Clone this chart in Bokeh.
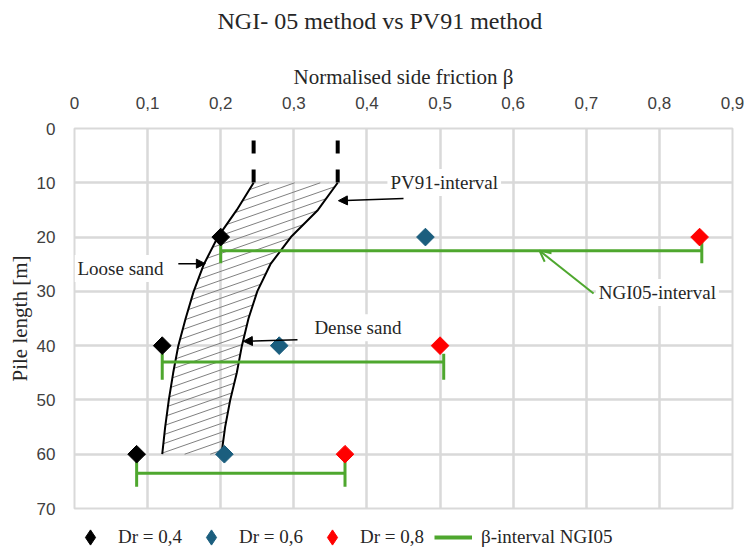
import numpy as np
from bokeh.plotting import figure
from bokeh.layouts import column
from bokeh.models import (Range1d, FixedTicker, CustomJSTickFormatter, Label, Arrow,
                          NormalHead, OpenHead, Legend, LegendItem, Title)
from bokeh.embed import file_html
from bokeh.resources import INLINE

# ---------------- data ----------------
depth = [20, 40, 60]
beta_dr04 = [0.2, 0.12, 0.085]
beta_dr06 = [0.48, 0.28, 0.205]
beta_dr08 = [0.855, 0.5, 0.37]

ngi_depth = [22.5, 43.0, 63.5]
ngi_low = [0.2, 0.12, 0.085]
ngi_high = [0.858, 0.505, 0.37]
ngi_cap_top = [20.0, 41.5, 61.0]
ngi_cap_bottom = [24.8, 46.3, 66.0]

pv_depth = [10, 15, 20, 25, 30, 35, 40, 45, 50, 55, 60]
pv_loose = [0.245, 0.222, 0.196, 0.177, 0.163, 0.152, 0.142, 0.135, 0.129, 0.124, 0.12]
pv_dense = [0.36, 0.333, 0.296, 0.268, 0.25, 0.238, 0.229, 0.222, 0.213, 0.206, 0.201]
pv_ext_depth = [2.2, 10.5]

x_ticks = [0, 0.1, 0.2, 0.3, 0.4, 0.5, 0.6, 0.7, 0.8, 0.9]
y_ticks = [0, 10, 20, 30, 40, 50, 60, 70]

legend_labels = ["Dr = 0,4", "Dr = 0,6", "Dr = 0,8", "β-interval NGI05"]

BLACK = "#000000"
BLUE = "#1B5E7E"
RED = "#FF0000"
GREEN = "#4EA72E"
GRID = "#D9D9D9"
SERIF = "Liberation Serif"
SANS = "Liberation Sans"

W, H, HL = 744, 518, 38
p = figure(width=W, height=H, x_range=Range1d(0, 0.9), y_range=Range1d(70, 0),
           x_axis_location="above", output_backend="svg", toolbar_location=None,
           min_border_left=74, min_border_right=12, min_border_top=128, min_border_bottom=10,
           title="NGI- 05 method vs PV91 method")

p.title.text_font = SERIF
p.title.text_font_size = "24px"
p.title.text_font_style = "normal"
p.title.text_color = "#262626"
p.title.align = "left"
p.title.offset = 143

# spacer between the axis label and the title
p.add_layout(Title(text=" ", text_font_size="10px"), "above")

p.xaxis.ticker = FixedTicker(ticks=x_ticks)
p.yaxis.ticker = FixedTicker(ticks=y_ticks)
p.xaxis.formatter = CustomJSTickFormatter(code="return tick == 0 ? '0' : tick.toFixed(1).replace('.', ',');")
for ax in (p.xaxis[0], p.yaxis[0]):
    ax.axis_line_color = None
    ax.major_tick_out = 0
    ax.major_tick_in = 0
    ax.minor_tick_out = 0
    ax.minor_tick_in = 0
    ax.major_label_text_font = SANS
    ax.major_label_text_font_size = "17px"
    ax.major_label_text_color = "#404040"
    ax.axis_label_text_font = SERIF
    ax.axis_label_text_font_size = "21px"
    ax.axis_label_text_font_style = "normal"
    ax.axis_label_text_color = "#262626"
p.xaxis.axis_label = "Normalised side friction β"
p.yaxis.axis_label = "Pile length [m]"
p.xaxis.major_label_standoff = 20
p.xaxis.axis_label_standoff = 5
p.yaxis.major_label_standoff = 19
p.yaxis.axis_label_standoff = 2

p.grid.grid_line_color = GRID
p.grid.grid_line_width = 2.5
p.outline_line_color = GRID
p.outline_line_width = 2

# ---------------- PV91 band (hatched) ----------------
px_per_x = 658 / 0.9
px_per_y = 380 / 70
m = 0.35 * px_per_x / px_per_y
xs_s = np.linspace(0.05, 0.45, 4000)
hx, hy = [], []
c = 10 + 1.0
while c < 60 + m * 0.45:
    ys_s = c - m * xs_s
    lo = np.interp(ys_s, pv_depth, pv_loose)
    hi = np.interp(ys_s, pv_depth, pv_dense)
    mask = (ys_s >= 10) & (ys_s <= 60) & (xs_s >= lo) & (xs_s <= hi)
    if mask.any():
        idx = np.where(mask)[0]
        hx.append([xs_s[idx[0]], xs_s[idx[-1]]])
        hy.append([ys_s[idx[0]], ys_s[idx[-1]]])
    c += 1.65
p.multi_line(hx, hy, line_color="#808080", line_width=1)

p.line(pv_loose, pv_depth, line_color=BLACK, line_width=2)
p.line(pv_dense, pv_depth, line_color=BLACK, line_width=2)
p.line([pv_loose[0]] * 2, pv_ext_depth, line_color=BLACK, line_width=4, line_dash="13 16")
p.line([pv_dense[0]] * 2, pv_ext_depth, line_color=BLACK, line_width=4, line_dash="13 16")

# ---------------- NGI05 intervals ----------------
p.segment(x0=ngi_low, y0=ngi_depth, x1=ngi_high, y1=ngi_depth, line_color=GREEN, line_width=3)
p.segment(x0=ngi_low, y0=ngi_cap_top, x1=ngi_low, y1=ngi_cap_bottom, line_color=GREEN, line_width=3)
p.segment(x0=ngi_high, y0=ngi_cap_top, x1=ngi_high, y1=ngi_cap_bottom, line_color=GREEN, line_width=3)

# ---------------- points ----------------
p.scatter(beta_dr04, depth, marker="square", angle=np.pi / 4, size=12.5, color=BLACK)
p.scatter(beta_dr06, depth, marker="square", angle=np.pi / 4, size=12.5, color=BLUE)
p.scatter(beta_dr08, depth, marker="square", angle=np.pi / 4, size=12.5, color=RED)

# ---------------- annotations ----------------
def add_label(x, y, text):
    p.add_layout(Label(x=x, y=y, text=text, text_font=SERIF, text_font_size="19px",
                       text_color="#262626", text_baseline="middle", text_align="left",
                       background_fill_color="white", padding=3))

add_label(0.428, 9.95, "PV91-interval")
add_label(0.0, 25.8, "Loose sand")
add_label(0.324, 36.7, "Dense sand")
add_label(0.713, 30.2, "NGI05-interval")

def add_arrow(x0, y0, x1, y1, color=BLACK, open_head=False):
    if open_head:
        head = OpenHead(size=11, line_color=color, line_width=2)
    else:
        head = NormalHead(size=9, fill_color=color, line_color=color)
    p.add_layout(Arrow(end=head, x_start=x0, y_start=y0, x_end=x1, y_end=y1,
                       line_color=color, line_width=1.5 if not open_head else 2))

add_arrow(0.450, 12.9, 0.361, 13.3)
add_arrow(0.142, 24.9, 0.179, 24.9)
add_arrow(0.305, 38.9, 0.231, 39.2)
add_arrow(0.710, 30.4, 0.636, 22.5, color=GREEN, open_head=True)

# ---------------- legend (own strip below the chart; its glyphs fall outside the strip's range) ----------------
pl = figure(width=W, height=HL, x_range=Range1d(0, 1), y_range=Range1d(0, 1),
            x_axis_type=None, y_axis_type=None, output_backend="svg", toolbar_location=None,
            min_border=0, outline_line_color=None)
pl.grid.visible = False
l1 = pl.scatter(beta_dr04, depth, marker="diamond", color=BLACK)
l2 = pl.scatter(beta_dr06, depth, marker="diamond", color=BLUE)
l3 = pl.scatter(beta_dr08, depth, marker="diamond", color=RED)
l4 = pl.line(ngi_low, ngi_depth, line_color=GREEN, line_width=4)
legend = Legend(items=[LegendItem(label=legend_labels[0], renderers=[l1]),
                       LegendItem(label=legend_labels[1], renderers=[l2]),
                       LegendItem(label=legend_labels[2], renderers=[l3]),
                       LegendItem(label=legend_labels[3], renderers=[l4])],
                orientation="horizontal", location=(-3, 0),
                label_text_font=SERIF, label_text_font_size="19px", label_text_color="#262626",
                border_line_color=None, background_fill_alpha=0, padding=0, margin=0,
                spacing=10, glyph_width=38, glyph_height=38, label_standoff=9)
pl.add_layout(legend, "center")

layout = column(p, pl, spacing=0)
open("out.html", "w").write(file_html(layout, INLINE))
